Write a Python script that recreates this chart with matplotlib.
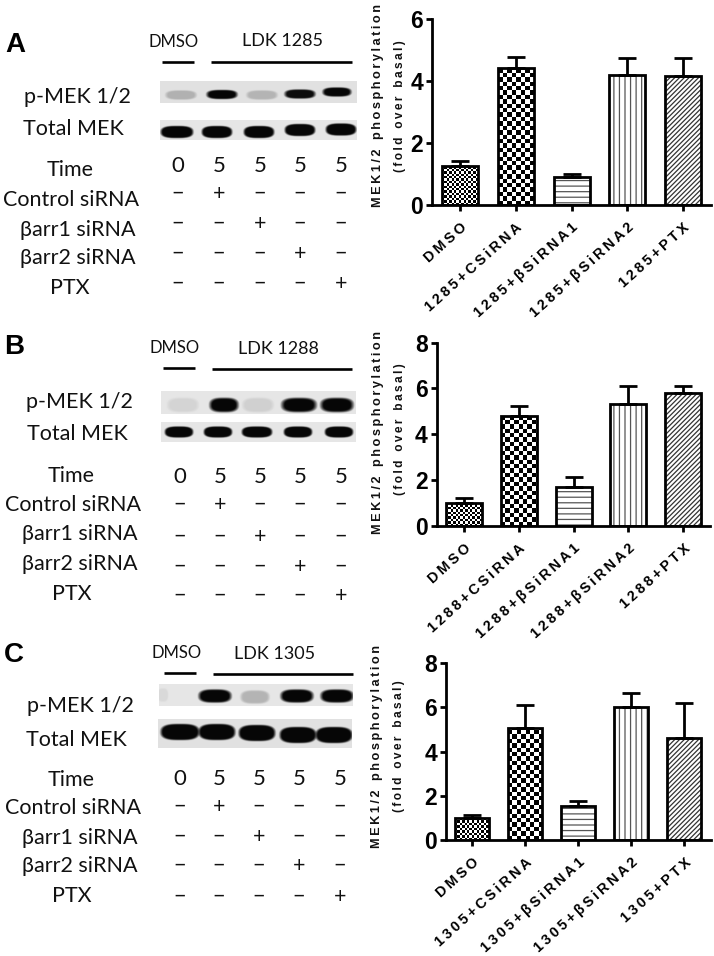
import numpy as np
import matplotlib
matplotlib.use("Agg")
import matplotlib.pyplot as plt

W, H = 714, 956
GEL = ["Lato", "Open Sans", "DejaVu Sans"]
ARIAL = ["Liberation Sans", "DejaVu Sans"]
plt.rcParams["hatch.linewidth"] = 0.9

# ---------- data ----------
compounds = ["1285", "1288", "1305"]
panel_letters = ["A", "B", "C"]
means_a = [1.25, 4.42, 0.88, 4.18, 4.17]
tops_a = [1.42, 4.78, 1.00, 4.75, 4.73]
means_b = [1.00, 4.78, 1.70, 5.33, 5.78]
tops_b = [1.20, 5.25, 2.13, 6.12, 6.10]
means_c = [1.00, 5.07, 1.55, 6.03, 4.62]
tops_c = [1.13, 6.10, 1.78, 6.65, 6.20]
yticks_a = [0, 2, 4, 6]
yticks_b = [0, 2, 4, 6, 8]
yticks_c = [0, 2, 4, 6, 8]
suffixes = ["+CSiRNA", "+βSiRNA1", "+βSiRNA2", "+PTX"]
time_vals = ["0", "5", "5", "5", "5"]
row_names = ["Control siRNA", "βarr1 siRNA", "βarr2 siRNA", "PTX"]
treat_control = ["−", "+", "−", "−", "−"]
treat_arr1 = ["−", "−", "+", "−", "−"]
treat_arr2 = ["−", "−", "−", "+", "−"]
treat_ptx = ["−", "−", "−", "−", "+"]
pmek_a = [0.22, 1.00, 0.20, 0.97, 1.00]
pmek_b = [0.08, 1.00, 0.10, 1.00, 1.00]
pmek_c = [0.06, 1.00, 0.22, 1.00, 1.00]
total_band = [1.00, 1.00, 1.00, 1.00, 1.00]

fig = plt.figure(figsize=(W / 100, H / 100), dpi=100, facecolor="white")
ov = fig.add_axes([0, 0, 1, 1], zorder=0)
ov.set_xlim(0, W); ov.set_ylim(H, 0); ov.axis("off")


def blot(rect, xs, ys, hw, hh, dark, bg, soft):
    x0, x1, y0, y1 = rect
    xx, yy = np.meshgrid(np.arange(x0, x1, 0.5) + .25, np.arange(y0, y1, 0.5) + .25)
    img = np.full(xx.shape, bg, float)
    for cx, cy, d, w in zip(xs, ys, dark, hw):
        r = (np.abs(xx - cx) / w) ** 3 + (np.abs(yy - cy) / hh) ** 2.6
        a = np.clip((1 + soft - r) / (2 * soft), 0, 1) * d
        img = img * (1 - a) + 0.03 * a
    ov.imshow(img, cmap="gray", vmin=0, vmax=1, extent=(x0, x1, y1, y0),
              aspect="auto", interpolation="bilinear", zorder=1)
    ov.set_xlim(0, W); ov.set_ylim(H, 0)


def left_block(letter, lpos, dm, dm_line, ldk, ldk_line, cmp, labs, xs, ty, rows, fs):
    ov.text(*lpos, letter, family=ARIAL, weight="bold", fontsize=20, ha="center", va="center", color="k")
    ov.text(*dm, "DMSO", family=GEL, fontsize=12, ha="center", va="center", color="#111")
    ov.text(*ldk, "LDK " + cmp, family=GEL, fontsize=13, ha="center", va="center", color="#111")
    ov.plot(dm_line[:2], [dm_line[2]] * 2, color="k", lw=1.9, solid_capstyle="butt", zorder=2)
    ov.plot(ldk_line[:2], [ldk_line[2]] * 2, color="k", lw=1.9, solid_capstyle="butt", zorder=2)
    names = ["p-MEK 1/2", "Total MEK", "Time"] + row_names
    for n, (x, y) in zip(names, labs):
        ov.text(x, y + 1.5, n, family=GEL, fontsize=fs, ha="center", va="center", color="#111")
    for x, t in zip(xs, time_vals):
        ov.text(x, ty + 1, t, family=GEL, fontsize=fs + .5, ha="center", va="center", color="#111")
    treats = [treat_control, treat_arr1, treat_arr2, treat_ptx]
    for tr, y in zip(treats, rows):
        for x, t in zip(xs, tr):
            ov.text(x, y, t, family=GEL, fontsize=fs, ha="center", va="center", color="#111")


def spaced(s):
    return "\u2009".join(s)


def checker(ax, bar, cell, sx, sy):
    """Fill a bar with a checker pattern clipped to the bar."""
    x = bar.get_x(); w = bar.get_width(); h = bar.get_height()
    nx = int(np.ceil(w * sx / cell)) + 1
    ny = int(np.ceil(h * sy / cell)) + 1
    pat = (np.indices((ny, nx)).sum(axis=0) % 2).astype(float)
    im = ax.imshow(pat, cmap="gray", vmin=0, vmax=1, origin="lower", aspect="auto",
                   interpolation="nearest", zorder=2,
                   extent=(x, x + nx * cell / sx, 0, ny * cell / sy))
    im.set_clip_path(bar)


def chart(ax_x, right, y_top, y_zero, centers, means, tops, ymax, ticks, cmp, l1, l2, bw):
    ax = fig.add_axes([ax_x / W, 1 - y_zero / H, (right - ax_x) / W, (y_zero - y_top) / H], zorder=2)
    ax.patch.set_alpha(0)
    s = (centers[-1] - centers[0]) / 4
    xlim = ((ax_x - centers[0]) / s, 4 + (right - centers[-1]) / s)
    sy = (y_zero - y_top) / ymax
    pos = np.arange(5)
    wd = bw / s
    styles = [None, None, "---", "|||", "///////"]
    cells = [2.4, 4.4, None, None, None]
    hcol = ["k", "k", "#555555", "#555555", "#333333"]
    for i in pos:
        fill = ax.bar(i, means[i], wd, color="white", edgecolor=hcol[i], hatch=styles[i], lw=0, zorder=1)
        if cells[i]:
            checker(ax, fill[0], cells[i], s, sy)
        ax.bar(i, means[i], wd, facecolor="none", edgecolor="k", lw=2.0, zorder=3)
        ax.errorbar(i, means[i], yerr=[[0], [tops[i] - means[i]]], color="k", lw=2.0,
                    capsize=6.5, capthick=2.0, zorder=2, clip_on=False)
    ax.set_xlim(*xlim); ax.set_ylim(0, ymax)
    for sp in ("top", "right"):
        ax.spines[sp].set_visible(False)
    for sp in ("left", "bottom"):
        ax.spines[sp].set_linewidth(2.0)
    ax.set_yticks(ticks)
    ax.set_yticklabels([str(t) for t in ticks], family=ARIAL, weight="bold", fontsize=16.5)
    ax.set_xticks(pos)
    labels = ["DMSO"] + [cmp + x for x in suffixes]
    ax.set_xticklabels([spaced(t) for t in labels], family=ARIAL, weight="bold", fontsize=10.4,
                       rotation=42, ha="right", rotation_mode="anchor")
    ax.tick_params(axis="both", width=2.0, length=4, pad=2.5)
    ax.tick_params(axis="x", pad=7)
    ov.text(*l1, spaced("MEK1/2 ") + " " + spaced("phosphorylation"), family=ARIAL, weight="bold",
            fontsize=9.2, rotation=90, ha="center", va="center", color="#111")
    ov.text(*l2, spaced("(fold ") + " " + spaced("over ") + " " + spaced("basal)"), family=ARIAL,
            weight="bold", fontsize=8.6, rotation=90, ha="center", va="center", color="#111")


# ---------- Panel A ----------
blot((160, 357, 81, 103), [181, 222, 262, 300, 337], [95, 94.5, 95, 94, 92], [15, 15, 15, 15, 14], 4.5, pmek_a, 0.88, 0.35)
blot((160, 357, 120, 140), [177, 217, 259, 300, 341], [132, 132, 132, 130, 129.5], [16, 15, 15, 15, 15], 6, total_band, 0.90, 0.25)
left_block("A", (15, 45), (174, 42), (162, 194, 62), (282, 41), (211, 352, 62), compounds[0],
           [(77, 95), (73, 127), (70, 168), (71, 198), (78, 228), (78, 257), (70, 287)],
           [178, 219, 260, 300, 341], 165, [194, 224, 254, 284], 15.5)
chart(432, 711, 19, 204.7, [460, 515.7, 571.3, 627.3, 683], means_a, tops_a, 6, yticks_a, compounds[0],
      (378, 105), (400, 106), 36)

# ---------- Panel B ----------
blot((161, 356, 391, 414), [183, 224, 258, 299, 337], [405] * 5, [15, 14, 15, 17, 16], 7, pmek_b, 0.90, 0.4)
blot((161, 356, 422, 442), [179, 218, 257, 298, 339], [432] * 5, [14, 14, 15, 14, 14], 5.5, total_band, 0.90, 0.25)
left_block("B", (14, 347), (175, 348), (163, 195, 368), (278, 349), (212, 352, 369), compounds[1],
           [(79, 400), (77, 432), (71, 474), (73, 503), (80, 533), (80, 563), (72, 592)],
           [180, 220, 260, 300, 341], 476, [505, 537, 567, 596], 15.5)
chart(436.7, 710, 342.7, 525.7, [464, 518.7, 573.7, 628.7, 683.3], means_b, tops_b, 8, yticks_b, compounds[1],
      (378, 432), (400, 429), 36)

# ---------- Panel C ----------
blot((159, 353, 684, 706), [163, 215, 255, 297, 337], [695, 696, 697, 696, 696], [5, 16, 14, 16, 16], 6.5, pmek_c, 0.90, 0.35)
blot((158, 352, 719, 748), [180, 217, 257, 298, 334], [732, 732, 733, 735, 735], [19, 18, 18, 18, 18], 8, total_band, 0.88, 0.25)
left_block("C", (14, 655), (177, 653), (164, 196, 673), (275, 654), (213, 353, 674), compounds[2],
           [(80, 705), (76, 738), (71, 778), (73, 807), (80, 836), (80, 865), (72, 895)],
           [180, 219, 259, 299, 340], 778, [807, 837, 866, 897], 15.5)
chart(446, 711, 663.3, 840, [472.3, 525.3, 578.3, 631.3, 684.3], means_c, tops_c, 8, yticks_c, compounds[2],
      (377, 746), (399, 746), 34)

fig.savefig("out.png", dpi=100, facecolor="white")
